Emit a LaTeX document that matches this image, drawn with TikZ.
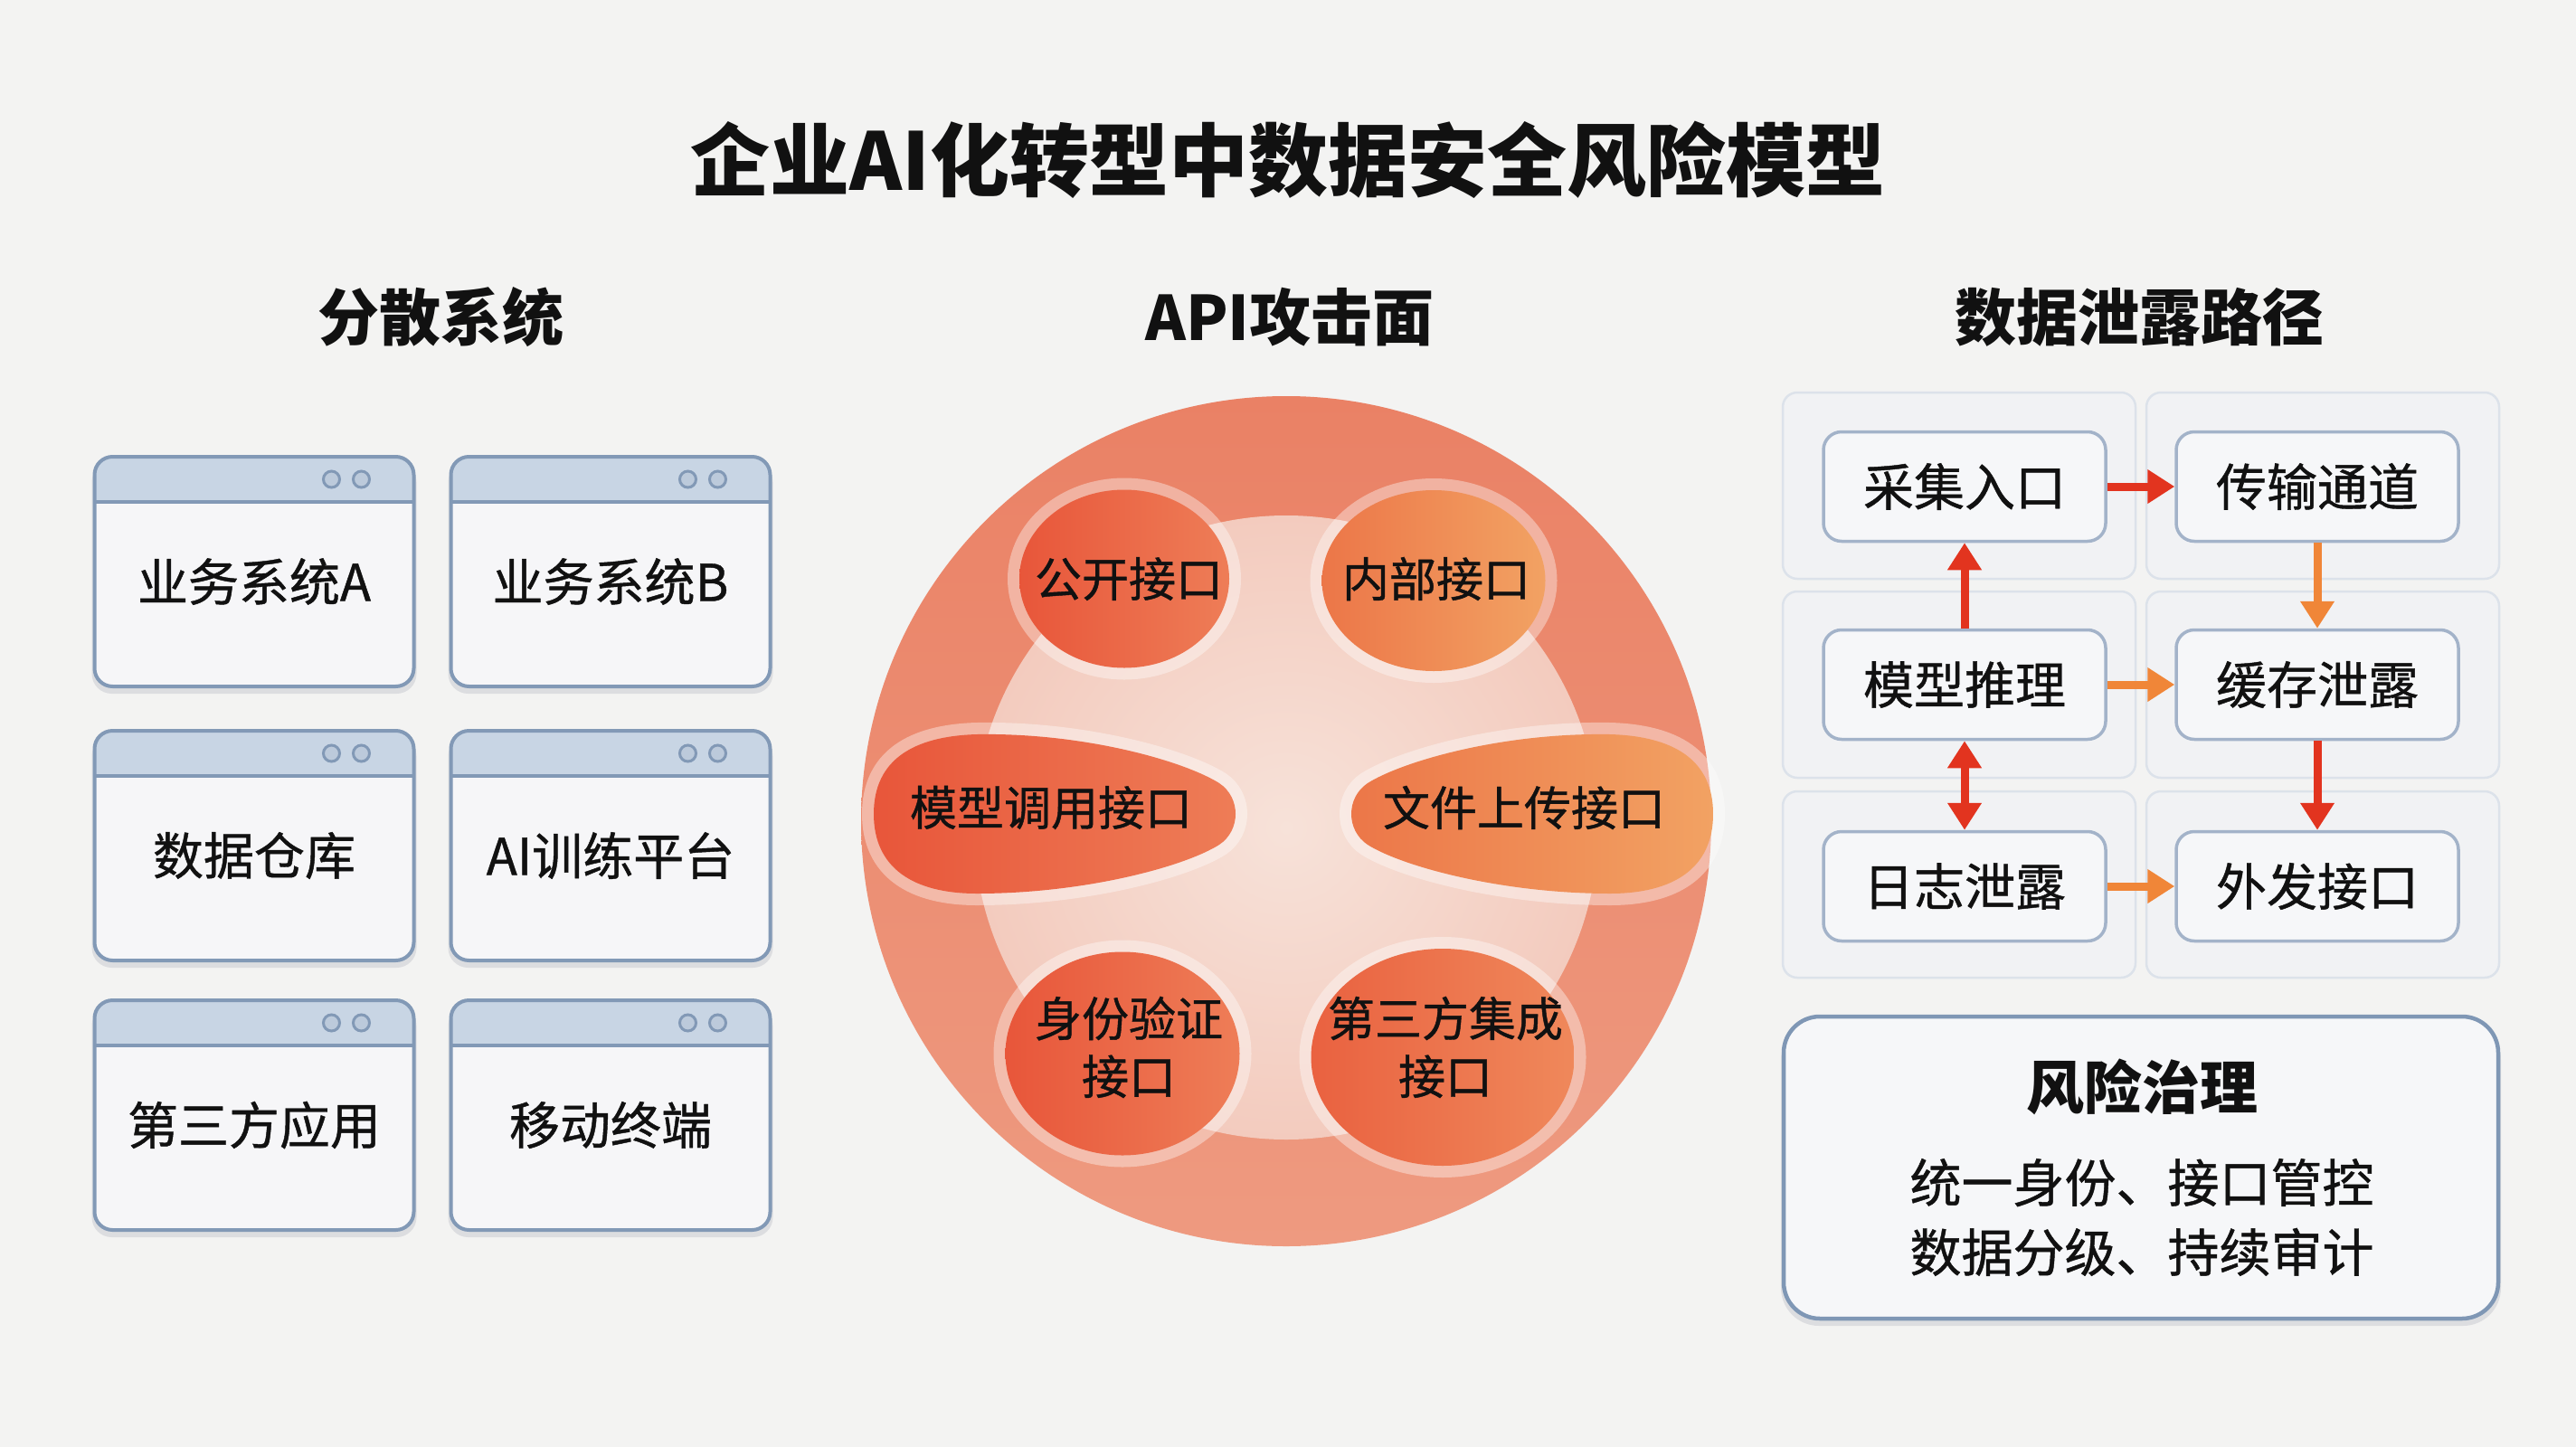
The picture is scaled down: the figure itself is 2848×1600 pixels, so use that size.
\documentclass[tikz,border=0pt]{standalone}
\usepackage{fontspec}
\setmainfont{Noto Sans CJK SC}
\newfontfamily\medfont{Noto Sans CJK SC}[FakeBold=0.8]
\usetikzlibrary{shapes.geometric,arrows.meta}
\definecolor{bg}{HTML}{F3F3F2}
\definecolor{winborder}{HTML}{8299B6}
\definecolor{winhdr}{HTML}{C8D5E4}
\definecolor{winbody}{HTML}{F6F6F8}
\definecolor{windot}{HTML}{BCCADB}
\definecolor{cellborder}{HTML}{DCE2EA}
\definecolor{cellfill}{HTML}{F1F2F4}
\definecolor{boxborder}{HTML}{A3B3C9}
\definecolor{boxfill}{HTML}{F6F7F9}
\definecolor{cred}{HTML}{E2341F}
\definecolor{corange}{HTML}{F08638}
\definecolor{txt}{HTML}{111111}
\definecolor{ringtop}{HTML}{EA8165}
\definecolor{ringbot}{HTML}{EE9A80}
\definecolor{inin}{HTML}{F7E2D9}
\definecolor{inout}{HTML}{F3CBBE}
\definecolor{bubA}{HTML}{E8563A}
\definecolor{bubB}{HTML}{EE7D57}
\definecolor{bubC}{HTML}{EC7648}
\definecolor{bubD}{HTML}{F2A263}
\definecolor{riskborder}{HTML}{7F97B5}
\definecolor{shadow}{HTML}{DCDDE0}
\tikzset{
  titlefont/.style={font=\fontsize{88}{100}\selectfont\bfseries, text=txt},
  headfont/.style={font=\fontsize{68}{80}\selectfont\bfseries, text=txt},
  winframe/.style={rectangle, minimum width=353pt, minimum height=254pt, inner sep=0pt, outer sep=0pt, fill=winbody, rounded corners=20pt},
  wintext/.style={font=\fontsize{56}{64}\medfont, text=txt, inner sep=0pt},
  bubtext/.style={font=\fontsize{52}{64}\medfont, text=txt, align=center, inner sep=0pt},
  halo/.style={preaction={draw=white, draw opacity=0.38, line width=26pt}},
  bub/.style={ellipse, inner sep=0pt, halo},
  cellbox/.style={rectangle, rounded corners=16pt, draw=cellborder, line width=2.5pt, fill=cellfill, minimum width=390pt, minimum height=206pt, inner sep=0pt},
  pbox/.style={rectangle, rounded corners=20pt, draw=boxborder, line width=3.5pt, fill=boxfill, minimum width=312pt, minimum height=121pt, inner sep=0pt, font=\fontsize{56}{64}\medfont, text=txt},
  arR/.style={draw=cred, line width=9pt, -{Triangle[length=30pt,width=36pt]}},
  arO/.style={draw=corange, line width=9pt, -{Triangle[length=30pt,width=36pt]}},
  arRR/.style={draw=cred, line width=9pt, {Triangle[length=30pt,width=36pt]}-{Triangle[length=30pt,width=36pt]}},
}
\newcommand\winbox[4]{%
  \fill[shadow, rounded corners=22pt] ([xshift=-3pt,yshift=-6pt]#2-176.5,#3-127) rectangle ([xshift=3pt,yshift=-8pt]#2+176.5,#3+127);
  \node[winframe] (#1) at (#2,#3) {};
  \begin{scope}
    \clip[rounded corners=20pt] (#1.north west) rectangle (#1.south east);
    \fill[winhdr] (#1.north west) rectangle ([yshift=-50pt]#1.north east);
  \end{scope}
  \draw[winborder, line width=3.5pt] ([yshift=-50pt]#1.north west) -- ([yshift=-50pt]#1.north east);
  \draw[winborder, line width=4pt, rounded corners=20pt] (#1.north west) rectangle (#1.south east);
  \draw[winborder, line width=3pt, fill=windot] ([xshift=-91pt,yshift=-25pt]#1.north east) circle (9pt);
  \draw[winborder, line width=3pt, fill=windot] ([xshift=-58pt,yshift=-25pt]#1.north east) circle (9pt);
  \node[wintext] (#1t) at ([yshift=-11pt]#1.center) {#4};
}
\begin{document}
\begin{tikzpicture}[x=1pt,y=-1pt]
\fill[bg] (0,0) rectangle (2848,1600);
\useasboundingbox (0,0) rectangle (2848,1600);

% titles
\node[titlefont] (title) at (1424,177) {企业AI化转型中数据安全风险模型};
\node[headfont] (h1) at (487,351) {分散系统};
\node[headfont] (h2) at (1426,351) {API攻击面};
\node[headfont] (h3) at (2365,351) {数据泄露路径};

% left windows
\winbox{w1}{281}{632}{业务系统A}
\winbox{w2}{675}{632}{业务系统B}
\winbox{w3}{281}{935}{数据仓库}
\winbox{w4}{675}{935}{AI训练平台}
\winbox{w5}{281}{1233}{第三方应用}
\winbox{w6}{675}{1233}{移动终端}

% centre circle
\node[circle, minimum size=940pt, inner sep=0pt, top color=ringtop, bottom color=ringbot] (outer) at (1422,908) {};
\node[circle, minimum size=690pt, inner sep=0pt, inner color=inin, outer color=inout] (inner) at (1422,915) {};

% bubbles
\node[bub, minimum width=232pt, minimum height=197pt, left color=bubA, right color=bubB] (b1) at (1243,640) {};
\node[bub, minimum width=247pt, minimum height=200pt, left color=bubC, right color=bubD] (b2) at (1585,642) {};
\node[bub, minimum width=259pt, minimum height=225pt, left color=bubA, right color=bubB] (b5) at (1241,1165) {};
\node[bub, minimum width=291pt, minimum height=240pt, left color=bubA!85!bubD, right color=bubB!70!bubD] (b6) at (1595,1169) {};
\path[halo, left color=bubA, right color=bubB]
  (966,900) .. controls (966,840) and (1010,814) .. (1080,812)
  .. controls (1200,810) and (1310,842) .. (1348,866)
  .. controls (1372,882) and (1372,918) .. (1348,934)
  .. controls (1310,958) and (1200,988) .. (1080,988)
  .. controls (1010,988) and (966,960) .. (966,900) -- cycle;
\path[halo, left color=bubC, right color=bubD]
  (1894,900) .. controls (1894,840) and (1850,814) .. (1780,812)
  .. controls (1660,810) and (1550,842) .. (1512,866)
  .. controls (1488,882) and (1488,918) .. (1512,934)
  .. controls (1550,958) and (1660,988) .. (1780,988)
  .. controls (1850,988) and (1894,960) .. (1894,900) -- cycle;
\node[bubtext] (t1) at (1248,640) {公开接口};
\node[bubtext] (t2) at (1588,640) {内部接口};
\node[bubtext] (t3) at (1162,893) {模型调用接口};
\node[bubtext] (t4) at (1685,893) {文件上传接口};
\node[bubtext] (t5) at (1248,1158) {身份验证\\接口};
\node[bubtext] (t6) at (1598,1158) {第三方集成\\接口};

% right: leak path grid
\node[cellbox] (c11) at (2166,537) {};
\node[cellbox] (c12) at (2568,537) {};
\node[cellbox] (c21) at (2166,757) {};
\node[cellbox] (c22) at (2568,757) {};
\node[cellbox] (c31) at (2166,978) {};
\node[cellbox] (c32) at (2568,978) {};
\node[pbox] (p11) at (2172,538) {采集入口};
\node[pbox] (p12) at (2562,538) {传输通道};
\node[pbox] (p21) at (2172,757) {模型推理};
\node[pbox] (p22) at (2562,757) {缓存泄露};
\node[pbox] (p31) at (2172,980) {日志泄露};
\node[pbox] (p32) at (2562,980) {外发接口};
\draw[arR] (p11.east) -- (p12.west);
\draw[arO] (p12.south) -- (p22.north);
\draw[arR] (p21.north) -- (p11.south);
\draw[arO] (p21.east) -- (p22.west);
\draw[arRR] (p21.south) -- (p31.north);
\draw[arR] (p22.south) -- (p32.north);
\draw[arO] (p31.east) -- (p32.west);

% risk governance
\fill[shadow, rounded corners=42pt] (1969,1130) rectangle (2765,1466);
\node[rectangle, rounded corners=40pt, draw=riskborder, line width=4.5pt, fill=boxfill, minimum width=790pt, minimum height=334pt, inner sep=0pt] (risk) at (2367,1291) {};
\node[font=\fontsize{64}{72}\selectfont\bfseries, text=txt, inner sep=0pt] (rt) at (2368,1202) {风险治理};
\node[font=\fontsize{57}{77}\medfont, text=txt, align=center, inner sep=0pt] (rb) at (2368,1346) {统一身份、接口管控\\数据分级、持续审计};
\end{tikzpicture}
\end{document}
